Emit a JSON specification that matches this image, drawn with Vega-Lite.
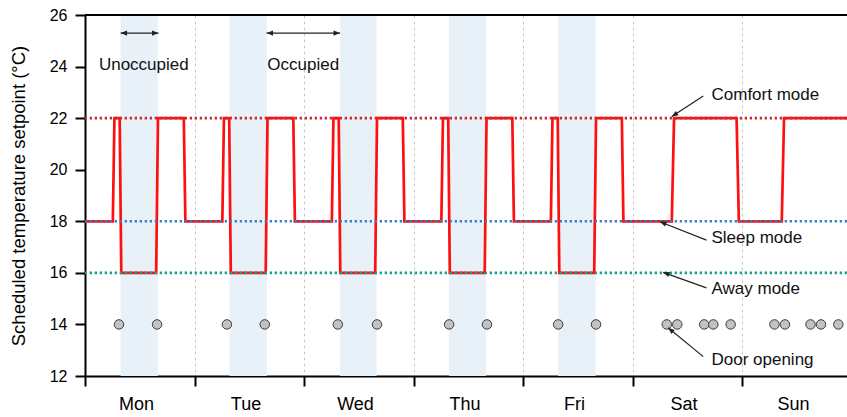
{
  "$schema": "https://vega.github.io/schema/vega-lite/v6.json",
  "width": 762,
  "height": 361,
  "autosize": {"type": "none"},
  "padding": {"left": 85, "top": 15, "right": 0, "bottom": 41},
  "config": {
    "view": {"stroke": null},
    "font": "Liberation Sans",
    "axis": {"domainColor": "#000", "domainWidth": 2, "tickColor": "#000", "tickWidth": 2, "tickSize": 10, "labelColor": "#000", "titleColor": "#000", "labelFont": "Liberation Sans", "titleFont": "Liberation Sans", "titleFontWeight": "normal"}
  },
  "datasets": {
    "bands": [
      {"h": 7.8, "h2": 15.95}, {"h": 31.7, "h2": 39.85}, {"h": 55.9, "h2": 63.9}, {"h": 79.8, "h2": 87.85}, {"h": 103.7, "h2": 111.9}
    ],
    "schedule": [
      {"h": 0, "v": 18}, {"h": 6.1, "v": 18}, {"h": 6.45, "v": 22}, {"h": 7.6, "v": 22}, {"h": 7.95, "v": 16}, {"h": 15.6, "v": 16}, {"h": 16.0, "v": 22}, {"h": 21.65, "v": 22}, {"h": 22.0, "v": 18},
      {"h": 30.1, "v": 18}, {"h": 30.45, "v": 22}, {"h": 31.6, "v": 22}, {"h": 31.95, "v": 16}, {"h": 39.6, "v": 16}, {"h": 40.0, "v": 22}, {"h": 45.65, "v": 22}, {"h": 46.0, "v": 18},
      {"h": 54.1, "v": 18}, {"h": 54.45, "v": 22}, {"h": 55.6, "v": 22}, {"h": 55.95, "v": 16}, {"h": 63.6, "v": 16}, {"h": 64.0, "v": 22}, {"h": 69.65, "v": 22}, {"h": 70.0, "v": 18},
      {"h": 78.1, "v": 18}, {"h": 78.45, "v": 22}, {"h": 79.6, "v": 22}, {"h": 79.95, "v": 16}, {"h": 87.6, "v": 16}, {"h": 88.0, "v": 22}, {"h": 93.65, "v": 22}, {"h": 94.0, "v": 18},
      {"h": 102.1, "v": 18}, {"h": 102.45, "v": 22}, {"h": 103.6, "v": 22}, {"h": 103.95, "v": 16}, {"h": 111.6, "v": 16}, {"h": 112.0, "v": 22}, {"h": 117.65, "v": 22}, {"h": 118.0, "v": 18},
      {"h": 128.6, "v": 18}, {"h": 129.1, "v": 22}, {"h": 142.8, "v": 22}, {"h": 143.3, "v": 18},
      {"h": 152.7, "v": 18}, {"h": 153.2, "v": 22}, {"h": 167, "v": 22}
    ],
    "modes": [
      {"v": 22, "mode": "Comfort"}, {"v": 18, "mode": "Sleep"}, {"v": 16, "mode": "Away"}
    ],
    "doors": [
      {"h": 7.45, "v": 14}, {"h": 15.8, "v": 14}, {"h": 31.1, "v": 14}, {"h": 39.4, "v": 14}, {"h": 55.4, "v": 14}, {"h": 64.0, "v": 14}, {"h": 79.8, "v": 14}, {"h": 88.1, "v": 14}, {"h": 103.7, "v": 14}, {"h": 112.0, "v": 14},
      {"h": 127.5, "v": 14}, {"h": 129.8, "v": 14}, {"h": 135.7, "v": 14}, {"h": 137.7, "v": 14}, {"h": 141.5, "v": 14},
      {"h": 151.1, "v": 14}, {"h": 153.4, "v": 14}, {"h": 159.0, "v": 14}, {"h": 161.3, "v": 14}, {"h": 165.1, "v": 14}
    ],
    "arrows": [
      {"h": 7.8, "v": 25.3, "h2": 16.1, "v2": 25.3},
      {"h": 39.8, "v": 25.3, "h2": 55.9, "v2": 25.3},
      {"h": 135.5, "v": 22.86, "h2": 128.6, "v2": 22.06},
      {"h": 136.2, "v": 17.27, "h2": 126.0, "v2": 17.98},
      {"h": 136.2, "v": 15.42, "h2": 126.7, "v2": 16.02},
      {"h": 135.5, "v": 12.75, "h2": 127.8, "v2": 13.87}
    ],
    "heads": [
      {"h": 7.8, "v": 25.3, "ang": 180}, {"h": 16.1, "v": 25.3, "ang": 0},
      {"h": 39.8, "v": 25.3, "ang": 180}, {"h": 55.9, "v": 25.3, "ang": 0},
      {"h": 128.6, "v": 22.06, "ang": 146.8},
      {"h": 126.0, "v": 17.98, "ang": 201.4},
      {"h": 126.7, "v": 16.02, "ang": 199.5},
      {"h": 127.8, "v": 13.87, "ang": 219.6}
    ],
    "labels": [
      {"h": 3.05, "v": 24.06, "label": "Unoccupied"},
      {"h": 39.95, "v": 24.06, "label": "Occupied"},
      {"h": 137.3, "v": 22.9, "label": "Comfort mode"},
      {"h": 137.3, "v": 17.35, "label": "Sleep mode"},
      {"h": 137.3, "v": 15.37, "label": "Away mode"},
      {"h": 137.3, "v": 12.62, "label": "Door opening"}
    ]
  },
  "layer": [
    {
      "data": {"name": "bands"},
      "mark": {"type": "rect", "color": "#e8f0f8"},
      "encoding": {
        "x": {"field": "h", "type": "quantitative", "title": null, "scale": {"domain": [0, 167], "nice": false, "zero": false}},
        "x2": {"field": "h2"}
      }
    },
    {
      "data": {"name": "schedule"},
      "mark": {"type": "line", "color": "#ff1010", "strokeWidth": 2.7, "strokeJoin": "miter"},
      "encoding": {
        "x": {
          "field": "h", "type": "quantitative", "title": null,
          "scale": {"domain": [0, 167], "nice": false, "zero": false},
          "axis": {
            "values": [0, 24, 48, 72, 96, 120, 144],
            "labelExpr": "['Mon','Tue','Wed','Thu','Fri','Sat','Sun'][round(datum.value/24)]",
            "labelOffset": 51,
            "labelFontSize": 18,
            "labelPadding": 9,
            "labelFlush": false,
            "labelBound": false,
            "labelOverlap": false,
            "grid": true,
            "gridDash": [3, 3],
            "gridColor": "#c8c8c8",
            "gridWidth": 1
          }
        },
        "y": {
          "field": "v", "type": "quantitative", "title": "Scheduled temperature setpoint (°C)",
          "scale": {"domain": [12, 26], "nice": false, "zero": false},
          "axis": {
            "values": [12, 14, 16, 18, 20, 22, 24, 26],
            "labelFontSize": 16,
            "labelPadding": 8,
            "titleFontSize": 18.5,
            "titlePadding": 21,
            "grid": false
          }
        }
      }
    },
    {
      "data": {"values": [{"v": 26}]},
      "mark": {"type": "rule", "color": "#000", "strokeWidth": 2},
      "encoding": {
        "y": {"field": "v", "type": "quantitative", "title": "Scheduled temperature setpoint (°C)", "scale": {"domain": [12, 26], "nice": false, "zero": false}}
      }
    },
    {
      "data": {"name": "modes"},
      "mark": {"type": "rule", "strokeWidth": 2.6, "strokeDash": [2.3, 2.7]},
      "encoding": {
        "y": {"field": "v", "type": "quantitative", "title": "Scheduled temperature setpoint (°C)", "scale": {"domain": [12, 26], "nice": false, "zero": false}},
        "color": {"field": "mode", "type": "nominal", "scale": {"domain": ["Comfort", "Sleep", "Away"], "range": ["#cc2a30", "#3a7cc4", "#1a9e8e"]}, "legend": null}
      }
    },
    {
      "data": {"name": "doors"},
      "mark": {"type": "point", "shape": "circle", "filled": true, "fill": "#c2c2c2", "stroke": "#3a3a3a", "strokeWidth": 1, "size": 90, "opacity": 1},
      "encoding": {
        "x": {"field": "h", "type": "quantitative", "title": null, "scale": {"domain": [0, 167], "nice": false, "zero": false}},
        "y": {"field": "v", "type": "quantitative", "title": "Scheduled temperature setpoint (°C)", "scale": {"domain": [12, 26], "nice": false, "zero": false}}
      }
    },
    {
      "data": {"name": "arrows"},
      "mark": {"type": "rule", "color": "#222", "strokeWidth": 1.2},
      "encoding": {
        "x": {"field": "h", "type": "quantitative", "title": null, "scale": {"domain": [0, 167], "nice": false, "zero": false}},
        "y": {"field": "v", "type": "quantitative", "title": "Scheduled temperature setpoint (°C)", "scale": {"domain": [12, 26], "nice": false, "zero": false}},
        "x2": {"field": "h2"},
        "y2": {"field": "v2"}
      }
    },
    {
      "data": {"name": "heads"},
      "mark": {"type": "point", "shape": "M0,0L-2,-0.8L-2,0.8Z", "filled": true, "color": "#222", "size": 42, "opacity": 1, "strokeWidth": 0},
      "encoding": {
        "x": {"field": "h", "type": "quantitative", "title": null, "scale": {"domain": [0, 167], "nice": false, "zero": false}},
        "y": {"field": "v", "type": "quantitative", "title": "Scheduled temperature setpoint (°C)", "scale": {"domain": [12, 26], "nice": false, "zero": false}},
        "angle": {"field": "ang", "type": "quantitative", "scale": null}
      }
    },
    {
      "data": {"name": "labels"},
      "mark": {"type": "text", "align": "left", "baseline": "middle", "fontSize": 17, "color": "#111", "font": "Liberation Sans"},
      "encoding": {
        "x": {"field": "h", "type": "quantitative", "title": null, "scale": {"domain": [0, 167], "nice": false, "zero": false}},
        "y": {"field": "v", "type": "quantitative", "title": "Scheduled temperature setpoint (°C)", "scale": {"domain": [12, 26], "nice": false, "zero": false}},
        "text": {"field": "label"}
      }
    }
  ]
}
